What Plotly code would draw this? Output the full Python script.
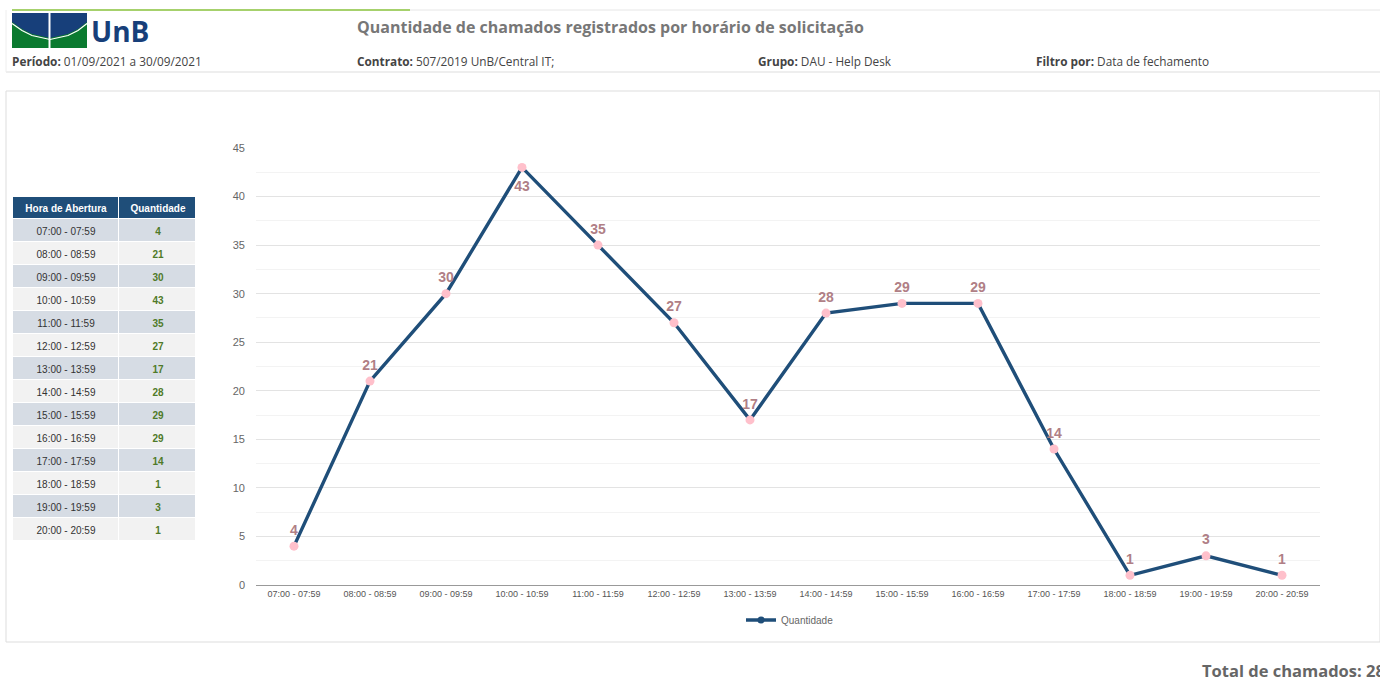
import plotly.graph_objects as go

W, H = 1380, 677

hours = ["07:00 - 07:59", "08:00 - 08:59", "09:00 - 09:59", "10:00 - 10:59",
         "11:00 - 11:59", "12:00 - 12:59", "13:00 - 13:59", "14:00 - 14:59",
         "15:00 - 15:59", "16:00 - 16:59", "17:00 - 17:59", "18:00 - 18:59",
         "19:00 - 19:59", "20:00 - 20:59"]
quantidade = [4, 21, 30, 43, 35, 27, 17, 28, 29, 29, 14, 1, 3, 1]
y_ticks = [0, 5, 10, 15, 20, 25, 30, 35, 40, 45]
table_headers = ["Hora de Abertura", "Quantidade"]

title = "Quantidade de chamados registrados por horário de solicitação"
total = sum(quantidade)


def px(x):
    return x / W


def py(y):
    return 1 - y / H


fig = go.Figure()

# ---- line chart ----
fig.add_trace(go.Scatter(
    x=hours, y=quantidade, mode="lines+markers", name="Quantidade",
    line=dict(color="#1f4e79", width=3.4),
    marker=dict(color="#1f4e79", size=7, line=dict(width=0)),
    xaxis="x", yaxis="y", showlegend=True, hoverinfo="x+y",
))
fig.add_trace(go.Scatter(
    x=hours, y=quantidade, mode="markers", showlegend=False,
    marker=dict(color="#ffc0cb", size=9, line=dict(width=0)),
    xaxis="x", yaxis="y", hoverinfo="skip",
))
is_peak = [v == max(quantidade) for v in quantidade]
label_pos = ["bottom center" if p else "top center" for p in is_peak]
label_gap = [20 if p else 11 for p in is_peak]
fig.add_trace(go.Scatter(
    x=hours, y=quantidade, mode="markers+text", showlegend=False,
    marker=dict(color="rgba(0,0,0,0)", size=label_gap, line=dict(width=0)),
    text=[str(v) for v in quantidade], textposition=label_pos,
    textfont=dict(family="Liberation Sans, Arial", size=14, color="#b07f86", weight="bold"),
    xaxis="x", yaxis="y", cliponaxis=False, hoverinfo="skip",
))

# ---- table drawn as heatmaps ----
col_edges = [0, 106, 183]
head_h, row_h = 22, 23
row_edges = [head_h + i * row_h for i in range(len(hours) + 1)]
parity = [[i % 2] for i in range(len(hours))]
tbl_scale = [[0, "#d6dce4"], [0.5, "#f2f2f2"], [1, "#1f4e79"]]
common = dict(xaxis="x2", yaxis="y2", colorscale=tbl_scale, zmin=0, zmax=2,
              showscale=False, xgap=1, ygap=1, hoverinfo="skip")
fig.add_trace(go.Heatmap(
    z=[[2, 2]], x=col_edges, y=[0, head_h], text=[table_headers],
    texttemplate="%{text}",
    textfont=dict(family="Liberation Sans, Arial", size=10, color="white", weight="bold"),
    **common))
fig.add_trace(go.Heatmap(
    z=parity, x=col_edges[:2], y=row_edges, text=[[h] for h in hours],
    texttemplate="%{text}",
    textfont=dict(family="Liberation Sans, Arial", size=10, color="#333333"),
    **common))
fig.add_trace(go.Heatmap(
    z=parity, x=col_edges[1:], y=row_edges, text=[[str(v)] for v in quantidade],
    texttemplate="%{text}",
    textfont=dict(family="Liberation Sans, Arial", size=10, color="#4f7a28", weight="bold"),
    **common))

fig.update_layout(
    width=W, height=H, margin=dict(l=0, r=0, t=0, b=0, autoexpand=False),
    paper_bgcolor="white", plot_bgcolor="white",
    font=dict(family="Liberation Sans, Arial", color="#666666"),
    xaxis=dict(domain=[px(256), px(1320)], anchor="y", showgrid=False, automargin=False,
               range=[-0.5, len(hours) - 0.5],
               showline=True, linecolor="#999999", linewidth=1, ticks="",
               tickfont=dict(size=9, color="#555555"), fixedrange=True, tickangle=0),
    yaxis=dict(domain=[py(585), py(148)], anchor="x", range=[0, 45], automargin=False,
               tickvals=y_ticks, showgrid=True, gridcolor="#e3e3e3", gridwidth=1,
               zeroline=False, showline=False, ticks="", fixedrange=True,
               ticklabelstandoff=10,
               tickfont=dict(size=11, color="#666666"),
               minor=dict(dtick=2.5, showgrid=True, gridcolor="#f3f3f3", gridwidth=1)),
    xaxis2=dict(domain=[px(13), px(196)], anchor="y2", range=[0, 183], automargin=False,
                showgrid=False, zeroline=False, showticklabels=False, ticks="",
                showline=False, fixedrange=True),
    yaxis2=dict(domain=[py(197 + row_edges[-1]), py(197)], anchor="x2",
                range=[row_edges[-1], 0], automargin=False,
                showgrid=False, zeroline=False, showticklabels=False, ticks="",
                showline=False, fixedrange=True),
    legend=dict(orientation="h", x=px(790), y=py(620), xanchor="center", yanchor="middle",
                font=dict(size=10, color="#666666"), bgcolor="rgba(0,0,0,0)"),
    showlegend=True,
)

shapes = []
shapes.append(dict(type="line", xref="paper", yref="paper", x0=px(12), x1=px(1380), y0=py(10), y1=py(10),
                   line=dict(color="#e6e6e6", width=1)))
shapes.append(dict(type="line", xref="paper", yref="paper", x0=px(12), x1=px(410), y0=py(10), y1=py(10),
                   line=dict(color="#8cc63f", width=1.5)))
shapes.append(dict(type="line", xref="paper", yref="paper", x0=px(6), x1=px(1380), y0=py(72), y1=py(72),
                   line=dict(color="#dddddd", width=1)))
shapes.append(dict(type="line", xref="paper", yref="paper", x0=px(6), x1=px(6), y0=py(10), y1=py(72),
                   line=dict(color="#eeeeee", width=1)))
shapes.append(dict(type="rect", xref="paper", yref="paper", x0=px(6), x1=px(1380), y0=py(642), y1=py(91),
                   line=dict(color="#dddddd", width=1), fillcolor="rgba(0,0,0,0)", layer="below"))

# UnB logo
shapes.append(dict(type="rect", xref="paper", yref="paper", x0=px(12), x1=px(87), y0=py(48), y1=py(13),
                   line=dict(width=0), fillcolor="#0a7a2f"))
pts = [(12, 13), (87, 13), (87, 22), (78, 29), (68, 34), (50, 38), (32, 34), (22, 29), (12, 22)]
path = "M " + " L ".join(f"{px(x)},{py(y)}" for x, y in pts) + " Z"
shapes.append(dict(type="path", xref="paper", yref="paper", path=path,
                   line=dict(width=0), fillcolor="#173f7a"))
curve = [(12, 23.5), (22, 30.5), (32, 35.5), (50, 39.5), (68, 35.5), (78, 30.5), (87, 23.5)]
cpath = "M " + " L ".join(f"{px(x)},{py(y)}" for x, y in curve)
shapes.append(dict(type="path", xref="paper", yref="paper", path=cpath,
                   line=dict(color="white", width=1.2)))
shapes.append(dict(type="line", xref="paper", yref="paper", x0=px(49.5), x1=px(49.5), y0=py(13), y1=py(48),
                   line=dict(color="white", width=2)))
fig.update_layout(shapes=shapes)

hdr_font = "Open Sans, Liberation Sans, Arial"
ann = []
ann.append(dict(text="<b>UnB</b>", x=px(89), y=py(31), xanchor="left", yanchor="middle",
                font=dict(family=hdr_font, size=28, color="#173f7a")))
ann.append(dict(text=f"<b>{title}</b>", x=px(355), y=py(27), xanchor="left", yanchor="middle",
                font=dict(family=hdr_font, size=16, color="#777777")))
info = [(10, "Período:", "01/09/2021 a 30/09/2021"),
        (355, "Contrato:", "507/2019 UnB/Central IT;"),
        (756, "Grupo:", "DAU - Help Desk"),
        (1034, "Filtro por:", "Data de fechamento")]
for x, k, v in info:
    ann.append(dict(text=f"<b>{k}</b> {v}", x=px(x), y=py(61), xanchor="left", yanchor="middle",
                    font=dict(family=hdr_font, size=11.8, color="#444444")))
ann.append(dict(text=f"<b>Total de chamados: {total}</b>", x=px(1200), y=py(670), xanchor="left",
                yanchor="middle", font=dict(family=hdr_font, size=16.5, color="#666666")))
for a in ann:
    a.update(xref="paper", yref="paper", showarrow=False)
fig.update_layout(annotations=ann)

fig.write_html("out.html", config={"displayModeBar": False},
               post_script="document.body.style.margin='0';document.body.style.overflow='hidden';")
